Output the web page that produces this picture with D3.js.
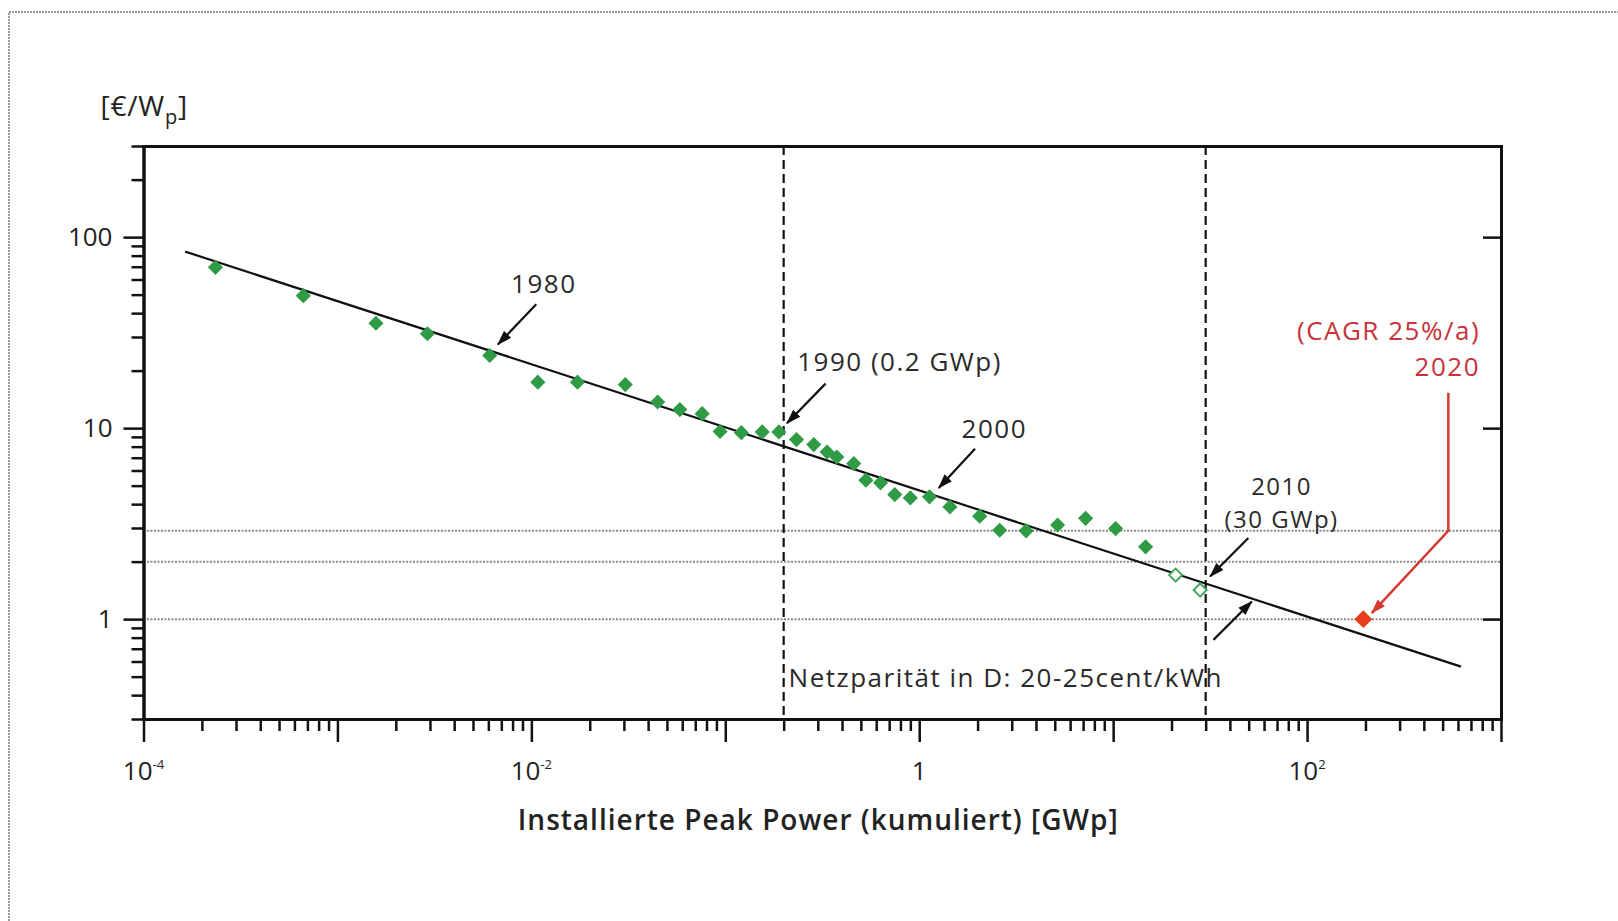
<!DOCTYPE html>
<html>
<head>
<meta charset="utf-8">
<script src="https://cdn.jsdelivr.net/npm/d3@7"></script>
<style>
  body { margin: 0; background: #fff; }
  svg text { font-family: "Open Sans", "Noto Sans", sans-serif; fill: #222; }
</style>
</head>
<body>
<div id="chart"></div>
<script>
// cumulative installed capacity [GWp] and module price [€/Wp]
const capacity = [2.35e-4, 6.67e-4, 1.58e-3, 2.91e-3, 6.1e-3, 1.08e-2, 1.73e-2, 3.05e-2,
  4.48e-2, 5.83e-2, 7.6e-2, 9.4e-2, 0.121, 0.155, 0.189, 0.233, 0.286, 0.335, 0.376,
  0.46, 0.531, 0.632, 0.748, 0.90, 1.13, 1.44, 2.05, 2.60, 3.56, 5.17, 7.21, 10.3, 14.7];
const price = [69.5, 49.4, 35.4, 31.2, 24.0, 17.4, 17.4, 16.9,
  13.7, 12.5, 11.9, 9.6, 9.47, 9.55, 9.55, 8.71, 8.2, 7.5, 7.06,
  6.52, 5.34, 5.17, 4.49, 4.31, 4.37, 3.87, 3.46, 2.92, 2.9, 3.11, 3.37, 2.98, 2.39];

// estimated points (open diamonds)
const capacityEst = [21.0, 28.1];
const priceEst = [1.70, 1.42];

// 2020 projection
const forecastCapacity = [195];
const forecastPrice = [1.0];

// learning curve fit, two end points
const fitCapacity = [1.64e-4, 622];
const fitPrice = [84, 0.564];

const parityLevels = [1, 2, 2.9];
const markerCapacity = [0.2, 30];

const xLabelExp = [-4, -2, 0, 2];
const yLabels = [1, 10, 100];

// annotations, placed in data coordinates (multi-line texts as list)
const notes = [
  { lines: ["1980"], x: 0.0116, y: 51.2, anchor: "middle", size: 26, gap: 0 },
  { lines: ["1990 (0.2 GWp)"], x: 0.235, y: 19.8, anchor: "start", size: 26, gap: 0 },
  { lines: ["2000"], x: 2.44, y: 8.89, anchor: "middle", size: 26, gap: 0 },
  { lines: ["2010", "(30 GWp)"], x: 73.9, y: 4.46, anchor: "middle", size: 24, gap: 33 },
  { lines: ["Netzparität in D: 20-25cent/kWh"], x: 0.212, y: 0.442, anchor: "start", size: 26, gap: 0 }
];
const redNotes = [
  { lines: ["(CAGR 25%/a)", "2020"], x: 780, y: 29.1, anchor: "end", size: 26, gap: 36 }
];
const arrows = [
  [[0.0106, 44.5], [0.00672, 27.4]],
  [[0.329, 17.1], [0.208, 10.6]],
  [[1.94, 7.79], [1.26, 4.86]],
  [[49.8, 2.66], [31.6, 1.673]],
  [[32.9, 0.779], [51.9, 1.237]]
];
const redArrow = [[535, 15.3], [535, 2.9], [215.6, 1.075]];

const width = 1618, height = 921;
const margin = { top: 146, right: 117, bottom: 202, left: 143.5 };
const innerW = width - margin.left - margin.right;
const innerH = height - margin.top - margin.bottom;

const green = "#2f9b45";

const svg = d3.select("#chart").append("svg")
  .attr("width", width)
  .attr("height", height);

// scanned page frame
svg.append("path")
  .attr("d", `M9,${height} L9,12 L${width},12`)
  .attr("fill", "none")
  .attr("stroke", "#9a9a9a")
  .attr("stroke-width", 2)
  .attr("stroke-dasharray", "2,1");

const defs = svg.append("defs");
[["head-black", "#111"], ["head-red", "#d43a2f"]].forEach(([id, c]) => {
  defs.append("marker")
    .attr("id", id)
    .attr("viewBox", "0 0 15 12")
    .attr("refX", 14)
    .attr("refY", 6)
    .attr("markerWidth", 15)
    .attr("markerHeight", 12)
    .attr("markerUnits", "userSpaceOnUse")
    .attr("orient", "auto")
    .append("path")
    .attr("d", "M0,1 L15,6 L0,11 Z")
    .attr("fill", c);
});

const g = svg.append("g")
  .attr("transform", `translate(${margin.left},${margin.top})`);

const x = d3.scaleLog().domain([1e-4, 1e3]).range([0, innerW]);
const y = d3.scaleLog().domain([0.3, 300]).range([innerH, 0]);

const xMajor = d3.range(-4, 4).map((e) => Math.pow(10, e));
const xMinor = [];
d3.range(-4, 3).forEach((e) => {
  d3.range(2, 10).forEach((m) => xMinor.push(m * Math.pow(10, e)));
});
const yMinor = [];
d3.range(-1, 3).forEach((e) => {
  d3.range(2, 10).forEach((m) => {
    const v = m * Math.pow(10, e);
    if (v >= 0.3 - 1e-9 && v <= 300 + 1e-9) yMinor.push(v);
  });
});

// grid parity levels
g.selectAll(".parity")
  .data(parityLevels)
  .join("line")
  .attr("class", "parity")
  .attr("x1", 0)
  .attr("x2", innerW)
  .attr("y1", (d) => y(d))
  .attr("y2", (d) => y(d))
  .attr("stroke", "#888")
  .attr("stroke-width", 2)
  .attr("stroke-dasharray", "2,1.5");

// 0.2 GWp and 30 GWp marker lines
g.selectAll(".marker-line")
  .data(markerCapacity)
  .join("line")
  .attr("class", "marker-line")
  .attr("x1", (d) => x(d))
  .attr("x2", (d) => x(d))
  .attr("y1", 0)
  .attr("y2", innerH)
  .attr("stroke", "#111")
  .attr("stroke-width", 2.2)
  .attr("stroke-dasharray", "9,5");

// axes
function styleAxis(sel) {
  sel.select(".domain").attr("stroke", "#111").attr("stroke-width", 3).attr("stroke-linecap", "square");
  sel.selectAll(".tick line").attr("stroke", "#111").attr("stroke-width", 2.5);
  sel.selectAll(".tick text").remove();
}

g.append("g")
  .attr("transform", `translate(0,${innerH})`)
  .call(d3.axisBottom(x).tickValues(xMinor).tickSize(12).tickSizeOuter(0).tickFormat(""))
  .call(styleAxis);
g.append("g")
  .attr("transform", `translate(0,${innerH})`)
  .call(d3.axisBottom(x).tickValues(xMajor).tickSize(23).tickSizeOuter(0).tickFormat(""))
  .call(styleAxis);
g.append("g")
  .call(d3.axisLeft(y).tickValues(yMinor).tickSize(12).tickSizeOuter(0).tickFormat(""))
  .call(styleAxis);
g.append("g")
  .call(d3.axisLeft(y).tickValues(yLabels).tickSize(20).tickSizeOuter(0).tickFormat(""))
  .call(styleAxis);
g.append("g")
  .attr("transform", `translate(${innerW},0)`)
  .call(d3.axisLeft(y).tickValues(yLabels).tickSize(18).tickSizeOuter(0).tickFormat(""))
  .call(styleAxis);
g.append("g")
  .call(d3.axisTop(x).tickValues([]).tickSizeOuter(0))
  .call(styleAxis);

// x tick labels with superscript exponents
const xl = g.selectAll(".x-label")
  .data(xLabelExp)
  .join("text")
  .attr("class", "x-label")
  .attr("x", (d) => x(Math.pow(10, d)))
  .attr("y", innerH + 61)
  .attr("text-anchor", "middle")
  .attr("font-size", 26);
xl.filter((d) => d === 0).text("1");
xl.filter((d) => d !== 0).each(function (d) {
  const t = d3.select(this);
  t.append("tspan").text("10");
  t.append("tspan").attr("font-size", 13).attr("dy", -11).text(d < 0 ? `-${-d}` : d);
});

// y tick labels
g.selectAll(".y-label")
  .data(yLabels)
  .join("text")
  .attr("class", "y-label")
  .attr("x", -31)
  .attr("y", (d) => y(d) + 9)
  .attr("text-anchor", "end")
  .attr("font-size", 26)
  .text((d) => d);

// axis titles
const yt = g.append("text")
  .attr("x", -43)
  .attr("y", -30)
  .attr("font-size", 28)
  .attr("letter-spacing", 0.8)
  .attr("fill", "#333");
yt.append("tspan").text("[€/W");
yt.append("tspan").attr("font-size", 20).attr("dy", 8).text("p");
yt.append("tspan").attr("dy", -8).text("]");

g.append("text")
  .attr("x", innerW / 2 - 4)
  .attr("y", innerH + 111)
  .attr("text-anchor", "middle")
  .attr("font-size", 28)
  .attr("letter-spacing", 1)
  .attr("font-weight", 600)
  .attr("fill", "#333")
  .text("Installierte Peak Power (kumuliert) [GWp]");

// learning curve fit
const line = d3.line().x((d) => x(d[0])).y((d) => y(d[1]));
g.append("path")
  .datum(d3.zip(fitCapacity, fitPrice))
  .attr("d", line)
  .attr("fill", "none")
  .attr("stroke", "#111")
  .attr("stroke-width", 2.2);

// diamonds
const diamond = (size) => d3.symbol().type(d3.symbolSquare).size(size);

g.selectAll(".hist")
  .data(d3.zip(capacity, price))
  .join("path")
  .attr("class", "hist")
  .attr("d", diamond(115))
  .attr("transform", (d) => `translate(${x(d[0])},${y(d[1])}) rotate(45)`)
  .attr("fill", green);

g.selectAll(".est")
  .data(d3.zip(capacityEst, priceEst))
  .join("path")
  .attr("class", "est")
  .attr("d", diamond(85))
  .attr("transform", (d) => `translate(${x(d[0])},${y(d[1])}) rotate(45)`)
  .attr("fill", "#fff")
  .attr("stroke", "#45a85a")
  .attr("stroke-width", 2);

g.selectAll(".forecast")
  .data(d3.zip(forecastCapacity, forecastPrice))
  .join("path")
  .attr("class", "forecast")
  .attr("d", diamond(160))
  .attr("transform", (d) => `translate(${x(d[0])},${y(d[1])}) rotate(45)`)
  .attr("fill", "#ea3d1d");

// annotation arrows
g.selectAll(".arrow")
  .data(arrows)
  .join("path")
  .attr("class", "arrow")
  .attr("d", line)
  .attr("fill", "none")
  .attr("stroke", "#111")
  .attr("stroke-width", 2.2)
  .attr("marker-end", "url(#head-black)");

g.append("path")
  .datum(redArrow)
  .attr("d", line)
  .attr("fill", "none")
  .attr("stroke", "#d43a2f")
  .attr("stroke-width", 2.5)
  .attr("marker-end", "url(#head-red)");

function drawNotes(data, cls, color) {
  g.selectAll("." + cls)
    .data(data)
    .join("text")
    .attr("class", cls)
    .attr("x", (d) => x(d.x))
    .attr("y", (d) => y(d.y))
    .attr("text-anchor", (d) => d.anchor)
    .attr("font-size", (d) => d.size)
    .attr("letter-spacing", 1.5)
    .style("fill", color)
    .each(function (d) {
      const t = d3.select(this);
      d.lines.forEach((s, i) => {
        t.append("tspan")
          .attr("x", x(d.x))
          .attr("dy", i === 0 ? 0 : d.gap)
          .text(s);
      });
    });
}
drawNotes(notes, "note", "#2a2a2a");
drawNotes(redNotes, "red-note", "#c8323a");
</script>
</body>
</html>
